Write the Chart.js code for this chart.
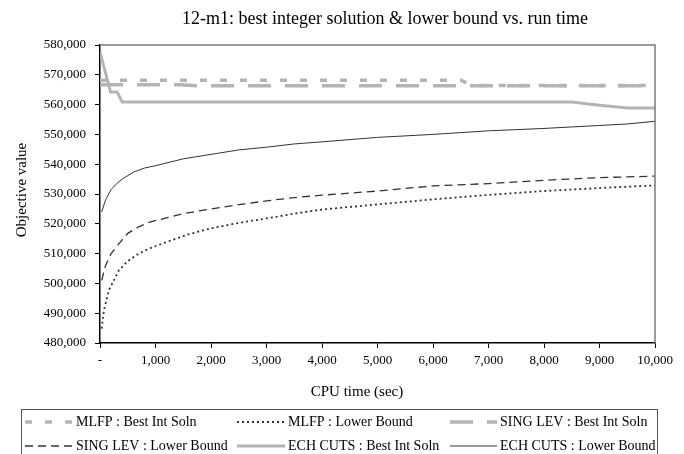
<!DOCTYPE html>
<html>
<head>
<meta charset="utf-8">
<script src="https://cdn.jsdelivr.net/npm/chart.js@4/dist/chart.umd.min.js"></script>
<style>
  html, body { margin: 0; padding: 0; background: #fff; }
  #wrap { width: 684px; height: 454px; position: relative; }
</style>
</head>
<body>
<div id="wrap"><canvas id="chart" width="684" height="454"></canvas></div>
<script>
const chartTitle = '12-m1: best integer solution & lower bound vs. run time';
const xTitle = 'CPU time (sec)';
const yTitle = 'Objective value';

// best integer solutions (step-like)
const mlfpBestT = [0, 6500, 6700, 10000];
const mlfpBestV = [568200, 568200, 566400, 566400];
const singBestT = [0, 1450, 1800, 10000];
const singBestV = [566700, 566700, 566300, 566300];
const echBestT = [0, 190, 310, 400, 8500, 9000, 9500, 10000];
const echBestV = [577700, 564200, 564200, 560900, 560900, 559800, 558900, 558900];

// lower bounds
const mlfpLbT = [30, 70, 160, 340, 500, 700, 900, 1200, 1600, 2000, 2500, 3000, 3500, 4000, 5000, 6000, 7000, 8000, 9000, 10000];
const mlfpLbV = [484800, 491000, 497700, 504400, 507500, 510000, 511800, 513900, 516500, 518500, 520300, 521800, 523400, 524800, 526500, 528200, 529700, 531000, 532000, 532900];
const singLbT = [30, 100, 200, 350, 500, 700, 900, 1200, 1500, 2000, 2500, 3000, 3500, 4000, 5000, 6000, 7000, 8000, 9000, 10000];
const singLbV = [501000, 506000, 510000, 513500, 516800, 519000, 520600, 522000, 523400, 525000, 526400, 527700, 528800, 529600, 531000, 532700, 533500, 534600, 535500, 536000];
const echLbT = [30, 100, 200, 300, 400, 600, 800, 1000, 1500, 2000, 2500, 3000, 3500, 4000, 5000, 6000, 7000, 8000, 8500, 9000, 9500, 10000];
const echLbV = [524000, 528000, 531500, 533500, 535000, 537300, 538700, 539500, 541800, 543300, 544800, 545700, 546800, 547500, 549000, 550000, 551200, 552000, 552500, 553000, 553500, 554400];

const seriesNames = [
  'MLFP : Best Int Soln', 'MLFP : Lower Bound', 'SING LEV : Best Int Soln',
  'SING LEV : Lower Bound', 'ECH CUTS : Best Int Soln', 'ECH CUTS : Lower Bound'
];

function pts(t, v) {
  return t.map((x, i) => ({ x: x, y: v[i] }));
}

// thousands separator by hand, locale data may be missing
function fmt(v) {
  return String(Math.round(v)).replace(/\B(?=(\d{3})+(?!\d))/g, ',');
}

const gray = '#b4b4b4';
const dark = '#333333';

const datasets = [
  { label: seriesNames[0], data: pts(mlfpBestT, mlfpBestV), borderColor: gray, borderWidth: 3.5, borderDash: [7, 13] },
  { label: seriesNames[1], data: pts(mlfpLbT, mlfpLbV), borderColor: dark, borderWidth: 1.8, borderDash: [2, 3] },
  { label: seriesNames[2], data: pts(singBestT, singBestV), borderColor: gray, borderWidth: 3.5, borderDash: [23, 14] },
  { label: seriesNames[3], data: pts(singLbT, singLbV), borderColor: dark, borderWidth: 1.3, borderDash: [8, 5] },
  { label: seriesNames[4], data: pts(echBestT, echBestV), borderColor: gray, borderWidth: 3 },
  { label: seriesNames[5], data: pts(echLbT, echLbV), borderColor: dark, borderWidth: 1 }
].map(d => Object.assign(d, { pointRadius: 0, tension: 0, fill: false }));

const serif = 'Liberation Serif, Times New Roman, serif';

// titles, frame and boxed legend drawn by hand to copy the Excel look
const decor = {
  id: 'decor',
  afterDraw(chart) {
    const ctx = chart.ctx;
    const a = chart.chartArea;
    ctx.save();
    ctx.strokeStyle = '#7a7a7a';
    ctx.lineWidth = 1.5;
    ctx.beginPath();
    ctx.moveTo(a.left, a.top);
    ctx.lineTo(a.right, a.top);
    ctx.lineTo(a.right, a.bottom);
    ctx.stroke();

    ctx.fillStyle = '#000';
    ctx.textAlign = 'center';
    ctx.textBaseline = 'middle';
    ctx.font = '18px ' + serif;
    ctx.fillText(chartTitle, 385, 19);
    ctx.font = '15px ' + serif;
    ctx.fillText(xTitle, 357, 392);
    ctx.save();
    ctx.translate(22, 190);
    ctx.rotate(-Math.PI / 2);
    ctx.fillText(yTitle, 0, 0);
    ctx.restore();

    // legend box
    ctx.strokeStyle = '#555';
    ctx.lineWidth = 1;
    ctx.strokeRect(21.5, 409.5, 636, 60);
    const cols = [[25, 72, 76], [237, 285, 288], [450, 497, 500]];
    const rows = [422, 446];
    ctx.font = '14px ' + serif;
    ctx.textAlign = 'left';
    chart.data.datasets.forEach((ds, i) => {
      const c = cols[i % 3];
      const y = rows[Math.floor(i / 3)];
      ctx.save();
      ctx.strokeStyle = ds.borderColor;
      ctx.lineWidth = ds.borderWidth;
      ctx.setLineDash(ds.borderDash || []);
      ctx.beginPath();
      ctx.moveTo(c[0], y);
      ctx.lineTo(c[1], y);
      ctx.stroke();
      ctx.restore();
      ctx.fillStyle = '#000';
      ctx.fillText(ds.label, c[2], y);
    });
    ctx.restore();
  }
};

new Chart(document.getElementById('chart'), {
  type: 'line',
  data: { datasets: datasets },
  options: {
    responsive: false,
    animation: false,
    maintainAspectRatio: false,
    layout: { padding: { left: 0, top: 45, right: 29, bottom: 81 } },
    plugins: {
      legend: { display: false },
      title: { display: false },
      tooltip: { enabled: false }
    },
    scales: {
      x: {
        type: 'linear',
        min: 0,
        max: 10000,
        afterFit: s => { s.height = 30; },
        ticks: {
          stepSize: 1000,
          color: '#000',
          padding: 5,
          maxRotation: 0,
          font: { family: serif, size: 13 },
          callback: v => v === 0 ? '-' : fmt(v)
        },
        grid: { drawOnChartArea: false, drawTicks: true, tickLength: 5, color: '#000' },
        border: { display: true, color: '#000', width: 1.5 }
      },
      y: {
        min: 480000,
        max: 580000,
        afterFit: s => { s.width = 100; },
        ticks: {
          stepSize: 10000,
          color: '#000',
          padding: 9,
          font: { family: serif, size: 13 },
          callback: v => fmt(v)
        },
        grid: { drawOnChartArea: false, drawTicks: true, tickLength: 5, color: '#000' },
        border: { display: true, color: '#000', width: 1.5 }
      }
    }
  },
  plugins: [decor]
});
</script>
</body>
</html>
